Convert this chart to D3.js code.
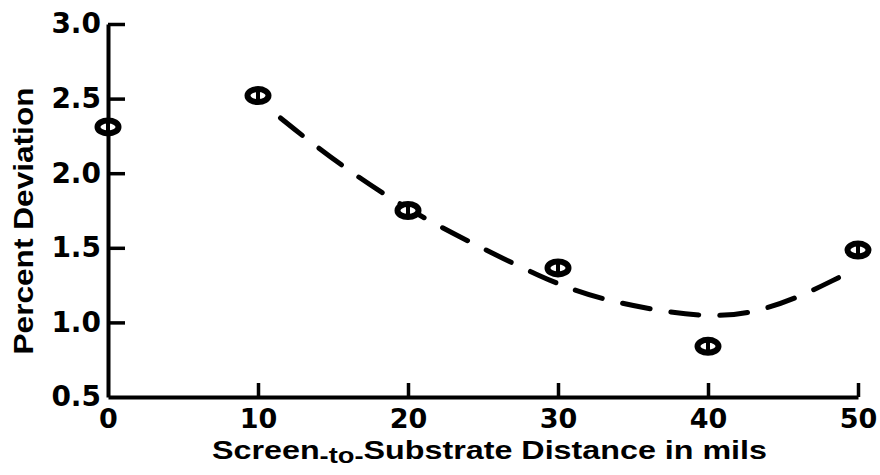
<!DOCTYPE html>
<html>
<head>
<meta charset="utf-8">
<script src="https://cdn.jsdelivr.net/npm/d3@7"></script>
<style>
  body { margin: 0; background: #fff; }
  text { font-weight: bold; fill: #000; }
</style>
</head>
<body>
<svg id="chart" width="880" height="475"></svg>
<script>
let width = 880;
let height = 475;

// measured points, screen distance (mils) vs percent deviation
let distances = [0, 10, 20, 30, 40, 50];
let deviations = [2.31, 2.52, 1.75, 1.365, 0.84, 1.485];

// hand drawn trend curve (dashed)
let curveX = [11.5, 13.1, 16.0, 19.0, 21.6, 24.3, 26.3, 28.8, 30.7, 32.8, 36.0, 39.5, 42.6, 45.9, 48.7];
let curveY = [2.37, 2.24, 2.02, 1.82, 1.67, 1.53, 1.43, 1.31, 1.23, 1.16, 1.09, 1.04, 1.05, 1.16, 1.30];

let xTicks = [0, 10, 20, 30, 40, 50];
let yTicks = [0.5, 1.0, 1.5, 2.0, 2.5, 3.0];

let x = d3.scaleLinear().domain([0, 50]).range([108, 858]);
let y = d3.scaleLinear().domain([0.5, 3.0]).range([397, 24]);

let svg = d3.select("#chart");

// y axis, ticks pointing into the plot
let yAxis = svg.append("g")
  .attr("transform", `translate(${x(0)},0)`)
  .call(d3.axisLeft(y).tickValues(yTicks).tickFormat(d3.format(".1f"))
    .tickSizeInner(-17).tickSizeOuter(0).tickPadding(7));

// x axis, ticks pointing up
let xAxis = svg.append("g")
  .attr("transform", `translate(0,${y(0.5)})`)
  .call(d3.axisBottom(x).tickValues(xTicks).tickFormat(d3.format("d"))
    .tickSizeInner(-14).tickSizeOuter(0).tickPadding(12));

[yAxis, xAxis].forEach(g => {
  g.select(".domain").attr("stroke", "#000").attr("stroke-width", 4);
  g.selectAll(".tick line").attr("stroke", "#000").attr("stroke-width", 3.5);
  g.selectAll(".tick text")
    .style("font-family", "DejaVu Sans")
    .style("font-size", "28px")
    .style("font-weight", "bold");
});
xAxis.selectAll(".tick text").style("font-size", "27px");
yAxis.selectAll(".tick").filter(d => d === 0.5).select("line").remove();
xAxis.selectAll(".tick").filter(d => d === 0).select("line").remove();

// dashed curve
let line = d3.line()
  .x(d => x(d[0]))
  .y(d => y(d[1]))
  .curve(d3.curveBasis);

svg.append("path")
  .datum(curveX.map((v, i) => [v, curveY[i]]))
  .attr("d", line)
  .attr("fill", "none")
  .attr("stroke", "#000")
  .attr("stroke-width", 5)
  .attr("stroke-linecap", "round")
  .attr("stroke-dasharray", "28,21");

// markers: thick ellipse with a bar through it
let pts = svg.append("g").selectAll("g")
  .data(distances.map((d, i) => [d, deviations[i]]))
  .enter()
  .append("g")
  .attr("transform", d => `translate(${x(d[0])},${y(d[1])})`);

pts.append("ellipse")
  .attr("rx", 10.5)
  .attr("ry", 6.5)
  .attr("fill", "#fff")
  .attr("stroke", "#000")
  .attr("stroke-width", 6);

pts.append("line")
  .attr("y1", -6).attr("y2", 6)
  .attr("stroke", "#000")
  .attr("stroke-width", 4);

// axis titles
svg.append("text")
  .attr("transform", "translate(33,221) rotate(-90)")
  .attr("text-anchor", "middle")
  .attr("textLength", 267)
  .attr("lengthAdjust", "spacingAndGlyphs")
  .style("font-family", "Liberation Sans")
  .style("font-size", "28px")
  .text("Percent  Deviation");

let xt = svg.append("text")
  .attr("x", 212)
  .attr("y", 459)
  .attr("textLength", 555)
  .attr("lengthAdjust", "spacingAndGlyphs")
  .style("font-family", "Liberation Sans")
  .style("font-size", "26px");
xt.append("tspan").text("Screen");
xt.append("tspan").attr("dy", 4).style("font-size", "22px").text("-to-");
xt.append("tspan").attr("dy", -4).text("Substrate  Distance  in  mils");
</script>
</body>
</html>
